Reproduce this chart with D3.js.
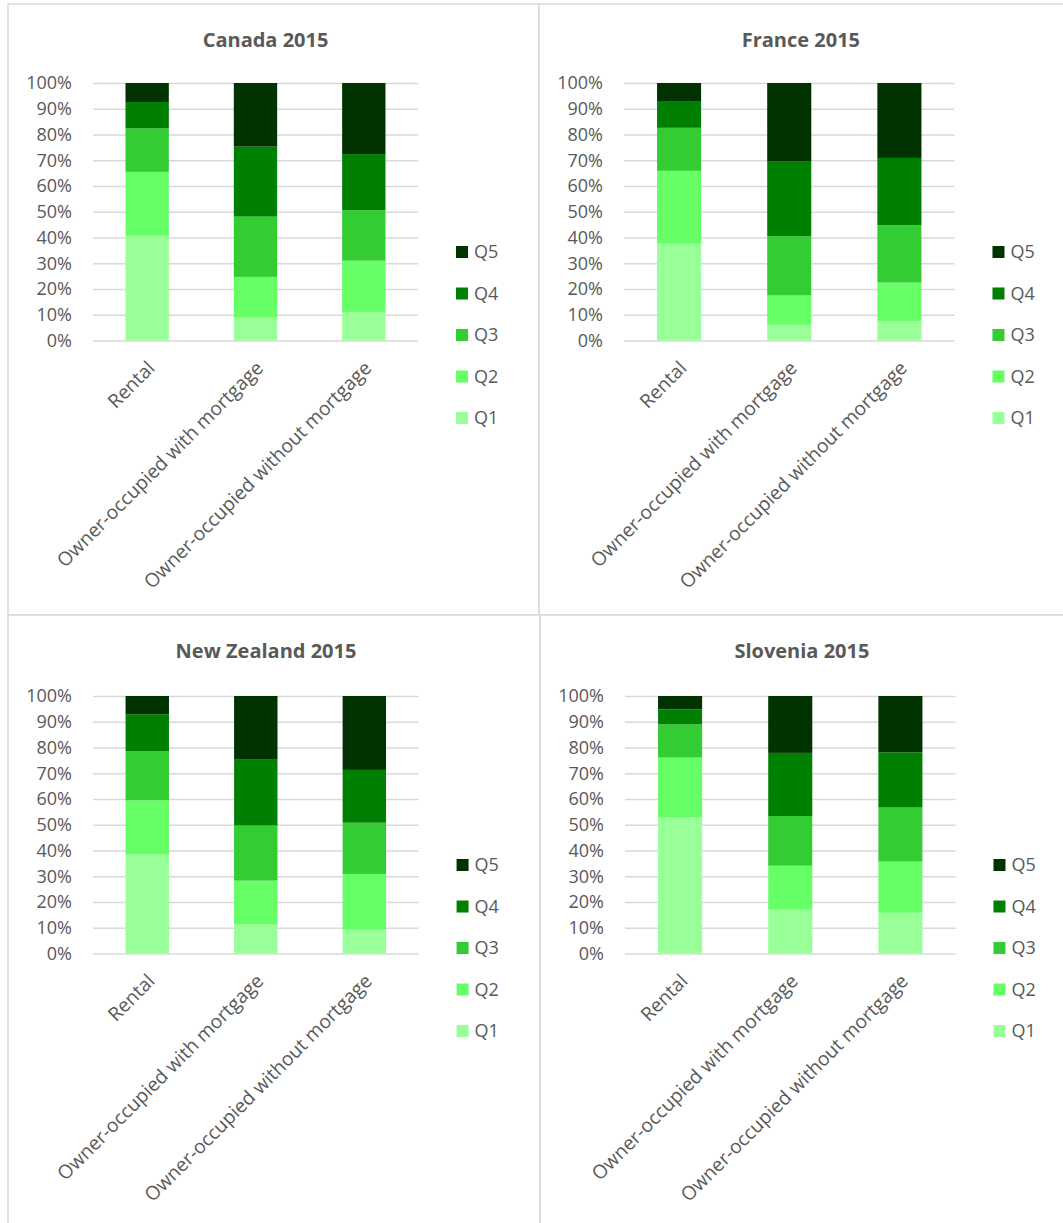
<!DOCTYPE html>
<html lang="en">
<head>
    <meta charset="UTF-8">
    <title>Income quintiles by tenure, 2015</title>
    <script src="https://d3js.org/d3.v7.min.js"></script>
    <style>
        * { margin: 0; padding: 0; box-sizing: border-box; }
        body { background: #fff; font-family: "Open Sans", Arial, sans-serif; }
        svg { display: block; }
        .tick text { fill: #595959; }
    </style>
</head>
<body>
<div id="chart"></div>
<script>
    // Data (%)
    const categories = ["Rental", "Owner-occupied with mortgage", "Owner-occupied without mortgage"];
    const quintiles = ["Q1", "Q2", "Q3", "Q4", "Q5"];
    const titles = ["Canada 2015", "France 2015", "New Zealand 2015", "Slovenia 2015"];
    const yTicks = [0, 10, 20, 30, 40, 50, 60, 70, 80, 90, 100];

    // one row per quintile, one value per category
    const canada = [
        [40.7, 8.9, 11.1],
        [24.8, 15.8, 19.9],
        [16.9, 23.4, 19.6],
        [10.2, 27.2, 21.8],
        [7.4, 24.7, 27.6]
    ];
    const france = [
        [37.6, 6.1, 7.6],
        [28.3, 11.4, 14.9],
        [16.7, 23.0, 22.3],
        [10.4, 29.2, 26.1],
        [7.0, 30.3, 29.1]
    ];
    const newZealand = [
        [38.4, 11.2, 9.2],
        [21.1, 17.1, 21.7],
        [19.1, 21.4, 19.9],
        [14.3, 25.8, 20.5],
        [7.1, 24.5, 28.7]
    ];
    const slovenia = [
        [52.8, 17.0, 15.8],
        [23.3, 17.1, 19.9],
        [12.9, 19.3, 21.0],
        [5.8, 24.5, 21.4],
        [5.2, 22.1, 21.9]
    ];

    const colors = ["#99ff99", "#66ff66", "#33cc33", "#008000", "#003300"];

    const W = 1063, H = 1223;
    const svg = d3.select("#chart").append("svg")
        .attr("width", W)
        .attr("height", H);
    svg.append("rect").attr("width", W).attr("height", H).attr("fill", "#fff");

    // panel frames (right ones run past the window edge)
    const panels = [
        { data: canada, x: 8, y: 4, w: 531, h: 611, top: 79 },
        { data: france, x: 539, y: 4, w: 540, h: 611, top: 79 },
        { data: newZealand, x: 8, y: 615, w: 532, h: 620, top: 81 },
        { data: slovenia, x: 540, y: 615, w: 540, h: 620, top: 81 }
    ];

    const color = d3.scaleOrdinal().domain(quintiles).range(colors);

    panels.forEach((p, i) => {
        const g = svg.append("g").attr("transform", `translate(${p.x},${p.y})`);

        g.append("rect")
            .attr("width", p.w)
            .attr("height", p.h)
            .attr("fill", "#fff")
            .attr("stroke", "#d9d9d9")
            .attr("stroke-width", 1.5);

        // title
        g.append("text")
            .attr("x", p.w * 0.485)
            .attr("y", 42.5)
            .attr("text-anchor", "middle")
            .attr("font-size", 20)
            .attr("font-weight", "bold")
            .attr("fill", "#595959")
            .text(titles[i]);

        const left = 85, plotH = 257.5;
        const plotW = p.w * 0.612;

        const x = d3.scaleBand().domain(categories).range([0, plotW]).paddingInner(0.6).paddingOuter(0.3);
        const y = d3.scaleLinear().domain([0, 100]).range([plotH, 0]);

        const plot = g.append("g").attr("transform", `translate(${left},${p.top})`);

        // gridlines + tick labels
        const yAxis = plot.append("g")
            .call(d3.axisLeft(y).tickValues(yTicks).tickSize(-plotW).tickPadding(21).tickFormat(d => d + "%"));
        yAxis.select(".domain").remove();
        yAxis.selectAll("line").attr("stroke", "#d9d9d9").attr("stroke-width", 1.3);
        yAxis.selectAll("text").attr("font-size", 18).attr("font-family", "'Open Sans', Arial, sans-serif");

        // stacked bars
        const table = categories.map((c, ci) => {
            const row = { category: c };
            quintiles.forEach((q, qi) => { row[q] = p.data[qi][ci]; });
            return row;
        });
        const series = d3.stack().keys(quintiles)(table);

        plot.selectAll("g.layer")
            .data(series)
            .join("g")
            .attr("class", "layer")
            .attr("fill", d => color(d.key))
            .selectAll("rect")
            .data(d => d)
            .join("rect")
            .attr("x", d => x(d.data.category))
            .attr("y", d => y(d[1]))
            .attr("width", x.bandwidth())
            .attr("height", d => y(d[0]) - y(d[1]));

        // category labels, rotated
        const xAxis = plot.append("g")
            .attr("transform", `translate(0,${plotH})`)
            .call(d3.axisBottom(x).tickSize(0).tickPadding(0));
        xAxis.select(".domain").remove();
        xAxis.selectAll("text")
            .attr("font-size", 19.2)
            .attr("font-family", "'Open Sans', Arial, sans-serif")
            .attr("text-anchor", "end")
            .attr("dy", "0.35em")
            .attr("transform", "translate(4,24) rotate(-45)");

        // legend, Q5 on top
        const legend = g.append("g")
            .attr("transform", `translate(${left + plotW + 38},${p.top + 169})`);
        const items = legend.selectAll("g")
            .data(quintiles.slice().reverse())
            .join("g")
            .attr("transform", (d, k) => `translate(0,${k * 41.5})`);
        items.append("rect")
            .attr("x", 0).attr("y", -6)
            .attr("width", 12).attr("height", 12)
            .attr("fill", d => color(d));
        items.append("text")
            .attr("x", 18)
            .attr("dy", "0.35em")
            .attr("font-size", 18)
            .attr("fill", "#595959")
            .text(d => d);
    });
</script>
</body>
</html>
